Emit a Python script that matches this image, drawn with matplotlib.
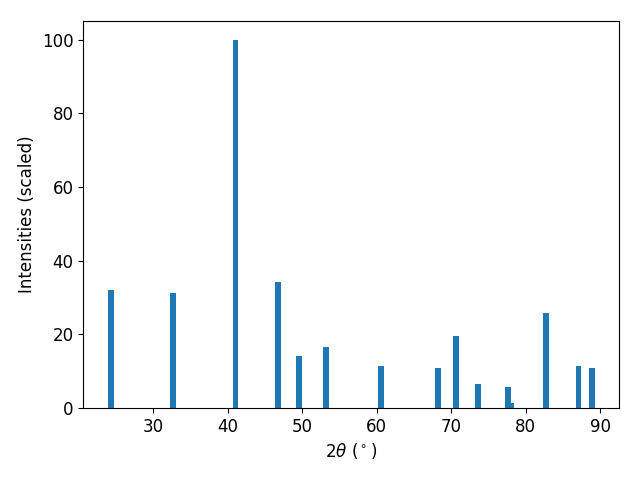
import matplotlib
matplotlib.use('Agg')
import matplotlib.pyplot as plt

# XRD peak positions and scaled intensities
two_theta = [24.27, 32.6, 41.05, 46.7, 49.6, 53.25, 60.6, 68.2, 70.6,
             73.55, 77.6, 78.1, 82.7, 87.1, 88.85]
intensity = [32.1, 31.3, 100.0, 34.2, 14.1, 16.6, 11.4, 10.9, 19.6,
             6.5, 5.7, 1.4, 25.8, 11.4, 10.9]

plt.rcParams['font.size'] = 12

fig, ax = plt.subplots(figsize=(6.4, 4.8), dpi=100)
ax.bar(two_theta, intensity, width=0.8)

ax.set_xlabel(r'$2\theta$ ($^\circ$)')
ax.set_ylabel('Intensities (scaled)')

fig.subplots_adjust(left=0.13, right=0.967, top=0.956, bottom=0.15)
fig.savefig('out.png')
